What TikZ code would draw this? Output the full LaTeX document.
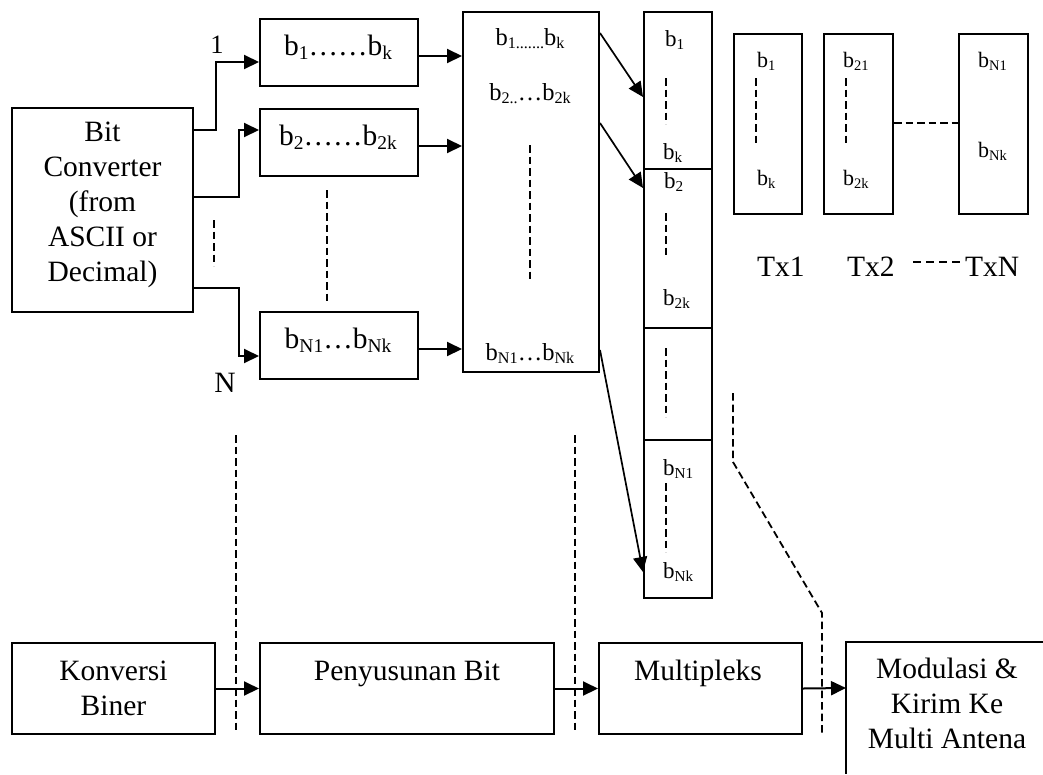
\documentclass[tikz,border=0pt]{standalone}
\usepackage{fontspec}
\setmainfont{Liberation Serif}
\usetikzlibrary{arrows.meta,calc}

% subscript set like a word processor: two thirds size, slightly lowered
\newcommand\sbs[1]{\raisebox{-0.14em}{\scalebox{0.66}{#1}}}
\newcommand\fbig{\fontsize{29.5}{35}\selectfont}
\newcommand\fmid{\fontsize{24.5}{28}\selectfont}
\newcommand\fmux{\fontsize{23}{27}\selectfont}
\newcommand\fsml{\fontsize{22}{26}\selectfont}

\begin{document}
\begin{tikzpicture}[x=1pt,y=-1pt,
  box/.style={draw, line width=2pt, inner sep=0pt, anchor=north west},
  arr/.style={line width=2pt, -{Triangle[length=15pt,width=14pt]}},
  dsh/.style={line width=1.8pt, dash pattern=on 7.5pt off 4pt},
  lbl/.style={inner sep=0pt, anchor=base},
  lblw/.style={inner sep=0pt, anchor=base west}]
\useasboundingbox (0,0) rectangle (1043,774);

% ---- converter and the N bit groups
\node[box, minimum width=181pt, minimum height=204pt] (bc) at (11,107) {};
\node[font=\fbig, align=center] at ($(bc.center)+(0,-5)$)
  {Bit\\Converter\\(from\\ASCII or\\Decimal)};

\node[box, minimum width=158pt, minimum height=67pt] (b1) at (259,18) {};
\node[box, minimum width=158pt, minimum height=67pt] (b2) at (259,108) {};
\node[box, minimum width=158pt, minimum height=67pt] (bN) at (259,311) {};
\node[lbl, font=\fbig] at (338,55) {b\sbs{1}……b\sbs{k}};
\node[lbl, font=\fbig] at (338,145) {b\sbs{2}……b\sbs{2k}};
\node[lbl, font=\fbig] at (338,348) {b\sbs{N1}…b\sbs{Nk}};

\draw[arr] (bc.east |- 0,130) -- ++(22,0) |- (b1.west |- 0,62);
\draw[arr] (bc.east |- 0,197) -- ++(45,0) |- (b2.west |- 0,130);
\draw[arr] (bc.east |- 0,288) -- ++(45,0) |- (bN.west |- 0,356);
\node[lbl, font=\fontsize{26.5}{30}\selectfont] at (217,53) {1};
\node[lbl, font=\fbig] at (225,392) {N};
\draw[dsh] (214,220) -- (214,266);
\draw[dsh] (327,190) -- (327,303);

% ---- arranged bit column
\node[box, minimum width=136pt, minimum height=360pt] (col) at (462,11) {};
\node[lbl, font=\fmid] at (530,45) {b\sbs{1.......}b\sbs{k}};
\node[lbl, font=\fmid] at (530,100) {b\sbs{2..}…b\sbs{2k}};
\node[lbl, font=\fmid] at (530,360) {b\sbs{N1}…b\sbs{Nk}};
\draw[dsh] (530,145) -- (530,282);

\draw[arr] (b1.east |- 0,56) -- (col.west |- 0,56);
\draw[arr] (b2.east |- 0,146) -- (col.west |- 0,146);
\draw[arr] (bN.east |- 0,349) -- (col.west |- 0,349);

% ---- multiplexed stream
\node[box, minimum width=68pt, minimum height=157pt] (m1) at (643,11) {};
\node[box, minimum width=68pt, minimum height=159pt] (m2) at (643,168) {};
\node[box, minimum width=68pt, minimum height=112pt] (m3) at (643,327) {};
\node[box, minimum width=68pt, minimum height=158pt] (m4) at (643,439) {};
\node[lblw, font=\fmux] at (665,46) {b\sbs{1}};
\node[lblw, font=\fmux] at (663,159) {b\sbs{k}};
\node[lblw, font=\fmux] at (664,188) {b\sbs{2}};
\node[lblw, font=\fmux] at (663,305) {b\sbs{2k}};
\node[lblw, font=\fmux] at (663,475) {b\sbs{N1}};
\node[lblw, font=\fmux] at (663,578) {b\sbs{Nk}};
\draw[dsh] (666,78) -- (666,124);
\draw[dsh] (666,213) -- (666,258);
\draw[dsh] (666,348) -- (666,417);
\draw[dsh] (666,483) -- (666,552);

\draw[arr, line width=1.7pt] (col.east |- 0,33) -- (m1.west |- 0,97);
\draw[arr, line width=1.7pt] (col.east |- 0,123) -- (m2.west |- 0,188);
\draw[arr, line width=1.7pt] (col.east |- 0,350) -- (m4.west |- 0,572);

% ---- per-antenna blocks
\node[box, minimum width=68pt, minimum height=180pt] (tx1) at (733,33) {};
\node[box, minimum width=69pt, minimum height=180pt] (tx2) at (823,33) {};
\node[box, minimum width=69pt, minimum height=180pt] (txN) at (958,33) {};
\node[lblw, font=\fsml] at (757,67) {b\sbs{1}};
\node[lblw, font=\fsml] at (757,185) {b\sbs{k}};
\node[lblw, font=\fsml] at (843,67) {b\sbs{21}};
\node[lblw, font=\fsml] at (843,185) {b\sbs{2k}};
\node[lblw, font=\fsml] at (978,67) {b\sbs{N1}};
\node[lblw, font=\fsml] at (978,157) {b\sbs{Nk}};
\draw[dsh] (756,78) -- (756,146);
\draw[dsh] (846,78) -- (846,146);
\draw[dsh] (tx2.east |- 0,123) -- (txN.west |- 0,123);

\node[lblw, font=\fbig] (t1) at (757,276) {Tx1};
\node[lblw, font=\fbig] (t2) at (847,276) {Tx2};
\node[lblw, font=\fbig] (tN) at (965,276) {TxN};
\draw[line width=1.6pt, dash pattern=on 8pt off 5pt] (913,262) -- (961,262);

% ---- stage dividers
\draw[dsh] (236,435) -- (236,733);
\draw[dsh] (575,435) -- (575,733);
\draw[dsh] (733,393) -- (733,462) -- (822,613) -- (822,733);

% ---- processing stages
\node[box, minimum width=203pt, minimum height=91pt, font=\fbig, align=center]
  (kb) at (11,642) {Konversi\\Biner};
\node[box, minimum width=294pt, minimum height=91pt] (pb) at (259,642) {};
\node[box, minimum width=203pt, minimum height=91pt] (mx) at (598,642) {};
\node[lbl, font=\fbig] at (pb.north |- 0,680) {Penyusunan Bit};
\node[lbl, font=\fbig] at (698,680) {Multipleks};
\coordinate (modtl) at (846,642);
\coordinate (modin) at (846,688);
\draw[line width=2pt] (1043,642) -- (modtl) -- (846,774);
\node[font=\fbig, align=center] at (947,703) {Modulasi \&\\Kirim Ke\\Multi Antena};

\draw[arr] (kb.east) -- (pb.west);
\draw[arr] (pb.east) -- (mx.west);
\draw[arr] (mx.east) -- (modin);
\end{tikzpicture}
\end{document}
